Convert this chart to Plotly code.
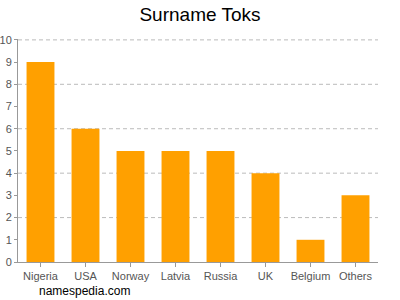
import plotly.graph_objects as go

categories = ["Nigeria", "USA", "Norway", "Latvia", "Russia", "UK", "Belgium", "Others"]
values = [9, 6, 5, 5, 5, 4, 1, 3]
y_ticks = list(range(0, 11))
grid_ticks = [2, 4, 6, 8, 10]

fig = go.Figure(go.Bar(x=categories, y=values,
                       marker=dict(color="#FFA000", line=dict(width=0)), width=0.62))

fig.update_layout(
    width=400, height=300,
    margin=dict(l=18, r=22, t=39, b=38),
    paper_bgcolor="white", plot_bgcolor="white",
    title=dict(text="Surname Toks", x=0.5, xanchor="center", y=0.953, yanchor="middle",
               font=dict(family="Liberation Sans, Arial, sans-serif", size=19, color="#000")),
    showlegend=False,
    font=dict(family="Liberation Sans, Arial, sans-serif"),
)
fig.update_yaxes(range=[0, 10.04], tickvals=y_ticks,
                 showline=True, linecolor="#999", linewidth=1, automargin=False,
                 ticks="outside", ticklen=3, tickcolor="#999",
                 tickfont=dict(size=11, color="#555"), showgrid=False, zeroline=False)
fig.update_xaxes(
    showline=True, linecolor="#999", linewidth=1, automargin=False,
    ticks="outside", ticklen=4, tickcolor="#999",
    tickfont=dict(size=11, color="#555"), showgrid=False,
)
for g in grid_ticks:
    fig.add_hline(y=g, line=dict(color="#bbb", width=1, dash="4px,3px"), layer="below")
fig.add_annotation(text="namespedia.com", xref="paper", yref="paper", x=0.052, y=-0.13,
                   xanchor="left", yanchor="middle", showarrow=False,
                   font=dict(size=12, color="#000", family="Liberation Sans, Arial, sans-serif"))
fig.write_html("out.html")
